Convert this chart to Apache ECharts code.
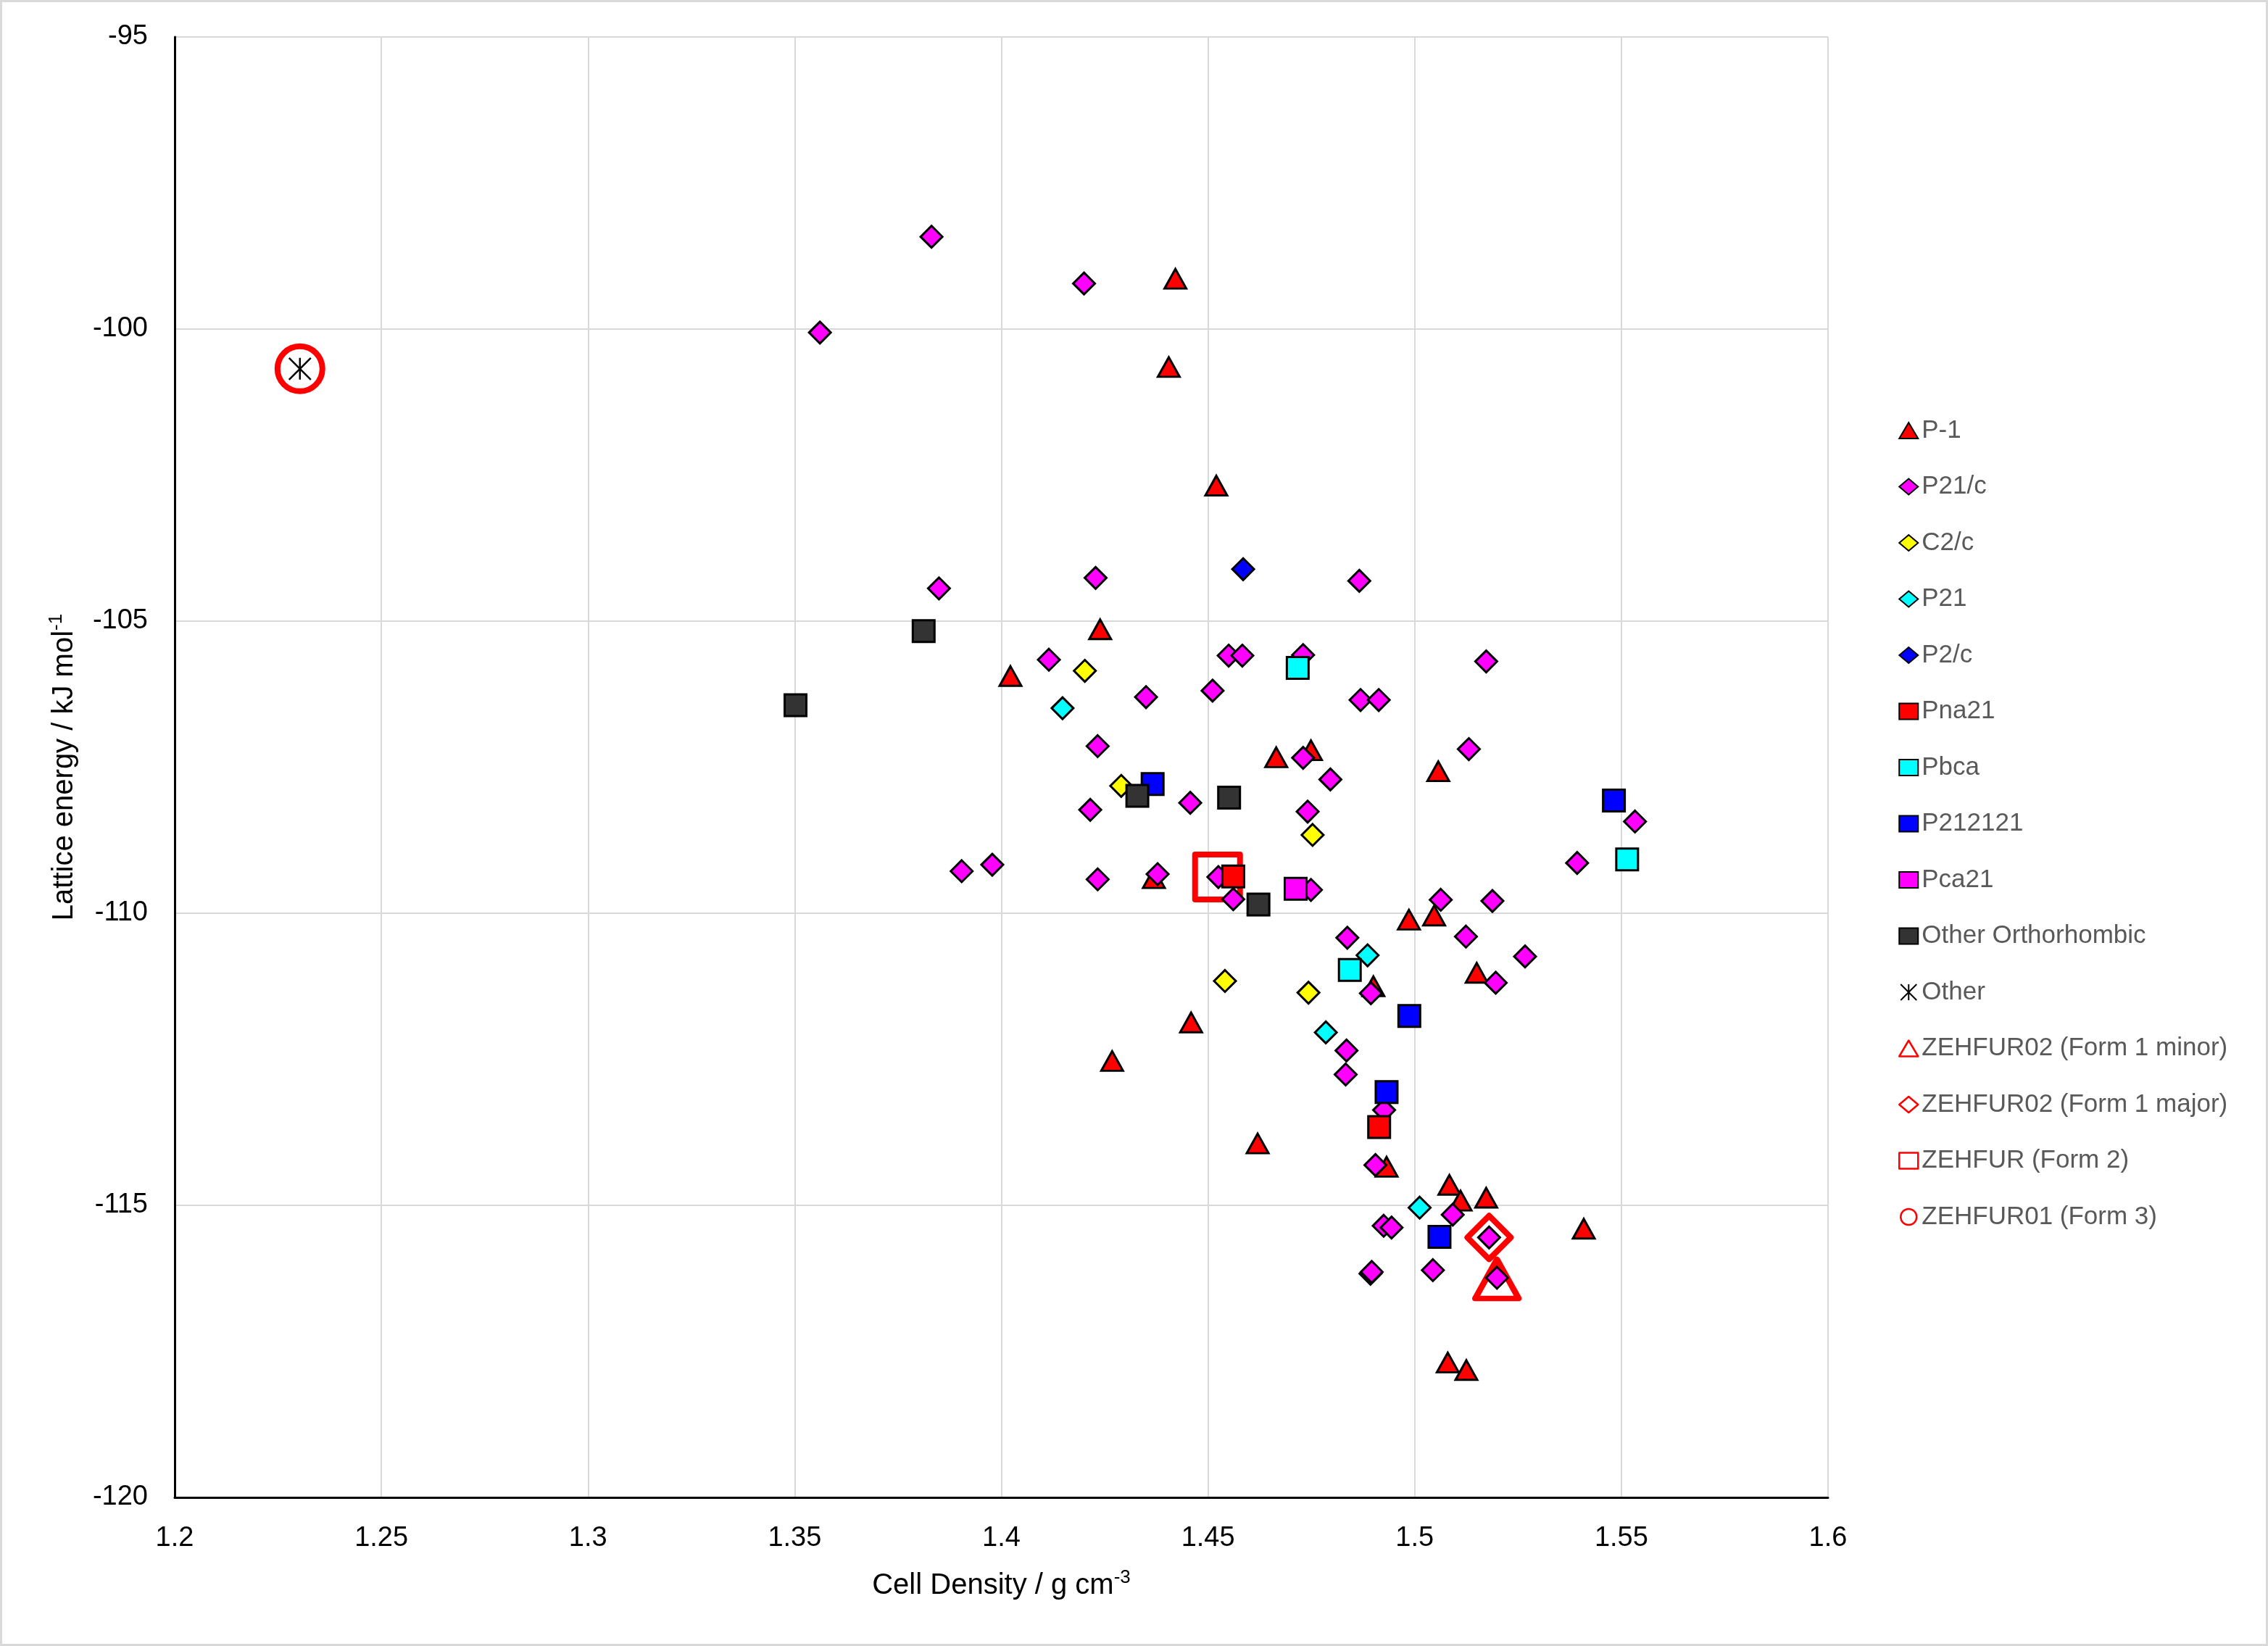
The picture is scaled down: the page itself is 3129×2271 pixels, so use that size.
<!DOCTYPE html>
<html><head><meta charset="utf-8">
<script src="https://cdn.jsdelivr.net/npm/echarts@6/dist/echarts.min.js"></script>
<style>
html,body{margin:0;padding:0;background:#fff}
#c{position:absolute;left:0;top:0;width:3129px;height:2271px}
#b{position:absolute;left:0;top:0;width:3129px;height:2271px;box-sizing:border-box;border:3px solid #d9d9d9;pointer-events:none}
</style>
</head><body><div id="c"></div><div id="b"></div>
<script>
// ---- data (x: cell density g/cm3, y: lattice energy kJ/mol) ----
const P1 = [[1.4421,-99.14],[1.4405,-100.65],[1.4520,-102.68],[1.4239,-105.14],[1.4022,-105.94],[1.4665,-107.33],[1.4749,-107.21],[1.5057,-107.57],[1.4369,-109.40],[1.4986,-110.11],[1.5047,-110.04],[1.5150,-111.02],[1.4900,-111.25],[1.4459,-111.87],[1.4268,-112.53],[1.4620,-113.94],[1.4932,-114.34],[1.5084,-114.65],[1.5111,-114.92],[1.5173,-114.87],[1.5409,-115.40],[1.5080,-117.69],[1.5125,-117.82]];
const P21c = [[1.3831,-98.42],[1.3561,-100.06],[1.4200,-99.22],[1.3849,-104.44],[1.4228,-104.26],[1.4866,-104.31],[1.4115,-105.66],[1.4550,-105.59],[1.4583,-105.59],[1.4730,-105.58],[1.5173,-105.69],[1.4350,-106.30],[1.4511,-106.19],[1.4869,-106.35],[1.4913,-106.35],[1.4233,-107.14],[1.5131,-107.19],[1.4730,-107.34],[1.4796,-107.71],[1.4457,-108.11],[1.4215,-108.23],[1.4741,-108.26],[1.5533,-108.43],[1.5393,-109.14],[1.3904,-109.28],[1.3978,-109.17],[1.4233,-109.42],[1.4378,-109.33],[1.4525,-109.38],[1.4561,-109.76],[1.4749,-109.60],[1.5063,-109.77],[1.5188,-109.79],[1.4837,-110.42],[1.5124,-110.40],[1.5267,-110.74],[1.5196,-111.19],[1.4894,-111.37],[1.4835,-112.35],[1.4833,-112.76],[1.4926,-113.37],[1.4905,-114.31],[1.5092,-115.16],[1.4925,-115.35],[1.4944,-115.38],[1.5180,-115.55],[1.5199,-116.24],[1.4893,-116.17],[1.4896,-116.14],[1.5044,-116.11]];
const C2c = [[1.4202,-105.85],[1.4290,-107.82],[1.4753,-108.66],[1.4541,-111.16],[1.4743,-111.36]];
const P21 = [[1.4148,-106.49],[1.4886,-110.72],[1.4785,-112.04],[1.5012,-115.04]];
const P2c = [[1.4585,-104.11]];
const Pna21 = [[1.4561,-109.37],[1.4914,-113.66]];
const Pbca = [[1.4717,-105.80],[1.4843,-110.97],[1.5514,-109.08]];
const P212121 = [[1.4366,-107.79],[1.5482,-108.07],[1.4987,-111.76],[1.4932,-113.06],[1.5060,-115.54]];
const Pca21 = [[1.4712,-109.58]];
const OtherOrtho = [[1.3812,-105.17],[1.3502,-106.44],[1.4329,-107.99],[1.4551,-108.02],[1.4622,-109.85]];
const Other = [[1.2303,-100.68]];
const Form1Minor = [[1.5199,-116.26]];
const Form1Major = [[1.5180,-115.55]];
const Form2 = [[1.4523,-109.38]];
const Form3 = [[1.2303,-100.68]];

const seriesNames = ['P-1','P21/c','C2/c','P21','P2/c','Pna21','Pbca','P212121','Pca21','Other Orthorhombic','Other','ZEHFUR02 (Form 1 minor)','ZEHFUR02 (Form 1 major)','ZEHFUR (Form 2)','ZEHFUR01 (Form 3)'];

const FONT = 'Liberation Sans, Arial, sans-serif';
const STAR = 'path://M5 0L5 10M0 0L10 10M10 0L0 10';

function filled(name, data, symbol, size, color) {
  return {
    name, type: 'scatter', data, symbol, symbolSize: size, z: 2,
    itemStyle: { color, borderColor: '#000', borderWidth: 3, opacity: 1 },
    emphasis: { disabled: true }
  };
}
function open(name, data, symbol, size) {
  return {
    name, type: 'scatter', data, symbol, symbolSize: size, z: 1,
    itemStyle: { color: 'rgba(0,0,0,0)', borderColor: '#ff0000', borderWidth: 8, borderJoin: 'round', opacity: 1 },
    emphasis: { disabled: true }
  };
}

const series = [
  filled('P-1', P1, 'triangle', [30, 27], '#ff0000'),
  filled('P21/c', P21c, 'diamond', 30, '#ff00ff'),
  filled('C2/c', C2c, 'diamond', 30, '#ffff00'),
  filled('P21', P21, 'diamond', 30, '#00ffff'),
  filled('P2/c', P2c, 'diamond', 30, '#0000ff'),
  filled('Pna21', Pna21, 'rect', 30, '#ff0000'),
  filled('Pbca', Pbca, 'rect', 30, '#00ffff'),
  filled('P212121', P212121, 'rect', 30, '#0000ff'),
  filled('Pca21', Pca21, 'rect', 30, '#ff00ff'),
  filled('Other Orthorhombic', OtherOrtho, 'rect', 30, '#333333'),
  { name: 'Other', type: 'scatter', data: Other, symbol: STAR, symbolSize: 30, z: 3,
    itemStyle: { color: 'none', borderColor: '#000', borderWidth: 2.5, opacity: 1 }, emphasis: { disabled: true } },
  open('ZEHFUR02 (Form 1 minor)', Form1Minor, 'triangle', [60, 54]),
  open('ZEHFUR02 (Form 1 major)', Form1Major, 'diamond', 60),
  open('ZEHFUR (Form 2)', Form2, 'rect', 62),
  open('ZEHFUR01 (Form 3)', Form3, 'circle', 62)
];

const legendData = seriesNames.map((n, i) => {
  const item = { name: n };
  if (i >= 11) item.itemStyle = { borderWidth: 2.5, color: 'rgba(0,0,0,0)' };
  else if (i === 10) item.itemStyle = { borderWidth: 2, color: 'none' };
  else item.itemStyle = { borderWidth: 2 };
  return item;
});

const chart = echarts.init(document.getElementById('c'), null, { renderer: 'canvas' });
chart.setOption({
  animation: false,
  backgroundColor: '#fff',
  grid: { left: 241, top: 51, right: 607, bottom: 205 },
  legend: {
    orient: 'vertical', left: 2614, top: 569,
    itemWidth: 26, itemHeight: 22, itemGap: 37.5,
    textStyle: { fontSize: 35, color: '#595959', fontFamily: FONT, lineHeight: 40 },
    data: legendData,
    selectedMode: false
  },
  xAxis: {
    type: 'value', min: 1.2, max: 1.6, interval: 0.05,
    name: '{a|Cell Density / g cm}{s|-3}',
    nameLocation: 'middle', nameGap: 98,
    nameTextStyle: { rich: {
      a: { fontSize: 40, color: '#000', fontFamily: FONT, lineHeight: 48 },
      s: { fontSize: 26, color: '#000', fontFamily: FONT, verticalAlign: 'top', lineHeight: 26 }
    } },
    axisLine: { show: true, onZero: false, lineStyle: { color: '#000', width: 3 } },
    axisTick: { show: false },
    axisLabel: { fontSize: 38, color: '#000', fontFamily: FONT, margin: 38 },
    splitLine: { show: true, lineStyle: { color: '#d9d9d9', width: 2 } }
  },
  yAxis: {
    type: 'value', min: -120, max: -95, interval: 5,
    name: '{a|Lattice energy / kJ mol}{s|-1}',
    nameLocation: 'middle', nameGap: 128, nameRotate: 90,
    nameTextStyle: { rich: {
      a: { fontSize: 40, color: '#000', fontFamily: FONT, lineHeight: 48 },
      s: { fontSize: 26, color: '#000', fontFamily: FONT, verticalAlign: 'top', lineHeight: 26 }
    } },
    axisLine: { show: true, onZero: false, lineStyle: { color: '#000', width: 3 } },
    axisTick: { show: false },
    axisLabel: { fontSize: 38, color: '#000', fontFamily: FONT, margin: 37 },
    splitLine: { show: true, lineStyle: { color: '#d9d9d9', width: 2 } }
  },
  series
});
</script></body></html>
